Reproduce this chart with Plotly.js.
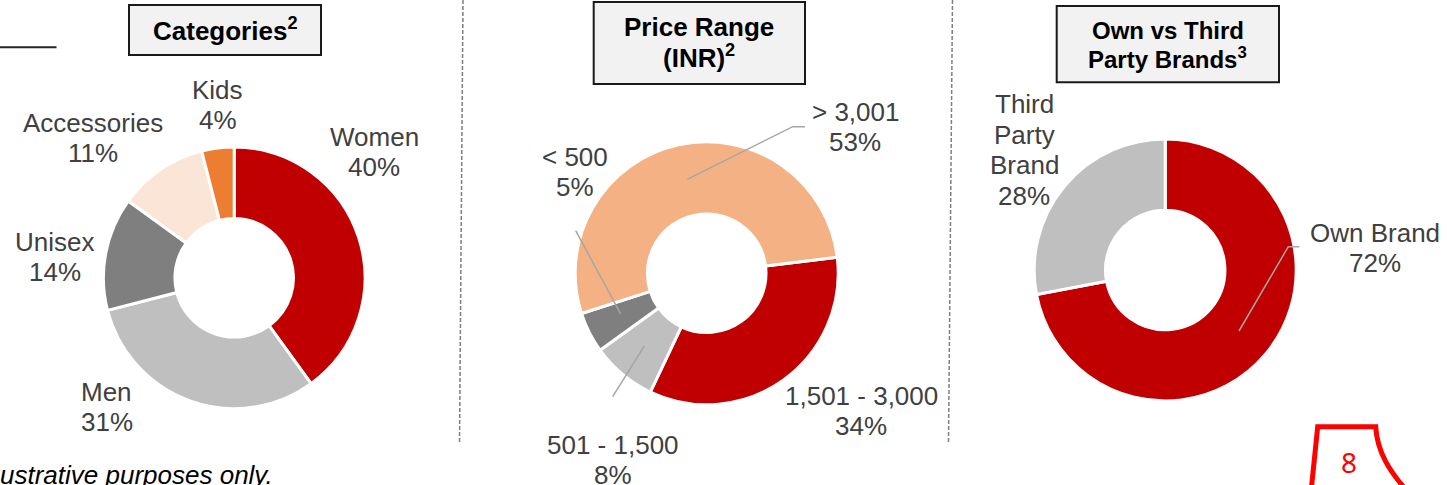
<!DOCTYPE html>
<html>
<head>
<meta charset="utf-8">
<script src="https://cdn.plot.ly/plotly-3.0.1.min.js"></script>
<style>
html,body{margin:0;padding:0;background:#ffffff;overflow:hidden;}
#chart{width:1447px;height:485px;}
</style>
</head>
<body>
<div id="chart"></div>
<script>
// ---------------- data ----------------
const categoryLabels = ['Women', 'Men', 'Unisex', 'Accessories', 'Kids'];
const categoryValues = [40, 31, 14, 11, 4];

const priceLabels = ['1,501 - 3,000', '501 - 1,500', '< 500', '> 3,001'];
const priceValues = [34, 8, 5, 53];

const brandLabels = ['Own Brand', 'Third Party Brand'];
const brandValues = [72, 28];

const titleLines = [
  ['Categories<sup>2</sup>'],
  ['Price Range', '(INR)<sup>2</sup>'],
  ['Own vs Third', 'Party Brands<sup>3</sup>']
];
const footnoteText = 'ustrative purposes only.';
const pageNumber = '8';

// ---------------- styling / layout ----------------
const W = 1447, H = 485;
const px = x => x / W;
const py = y => 1 - y / H;

const categoryColors = ['#C00000', '#BFBFBF', '#7F7F7F', '#FBE5D6', '#ED7D31'];
const priceColors = ['#C00000', '#BFBFBF', '#7F7F7F', '#F4B183'];
const brandColors = ['#C00000', '#BFBFBF'];

const FONT = '"Liberation Sans", Arial, sans-serif';
const LABEL_SIZE = 26, LABEL_COLOR = '#404040', LINE_GAP = 30.5;

function dom(cx, cy, r) {
  return { x: [px(cx - r), px(cx + r)], y: [py(cy + r), py(cy - r)] };
}

function donut(labels, values, colors, cx, cy, r, hole, rotation) {
  return {
    type: 'pie', labels: labels, values: values, sort: false,
    direction: 'clockwise', rotation: rotation, hole: hole,
    domain: dom(cx, cy, r),
    marker: { colors: colors, line: { color: '#ffffff', width: 3 } },
    textinfo: 'none', hoverinfo: 'label+percent', showlegend: false
  };
}

const traces = [
  donut(categoryLabels, categoryValues, categoryColors, 234.2, 277.8, 130.8, 0.453, 0),
  donut(priceLabels, priceValues, priceColors, 706.7, 273.3, 131.5, 0.451, 83),
  donut(brandLabels, brandValues, brandColors, 1165.2, 270, 131, 0.456, 0)
];

// label placements (center x, first baseline y) in pixels
const categoryLabelPos = [
  { cx: 374, y: 145.7 }, { cx: 106.7, y: 401 }, { cx: 54.7, y: 250.7 },
  { cx: 92.5, y: 132 }, { cx: 218, y: 99 }
];
const priceLabelPos = [
  { cx: 861.5, y: 405 }, { cx: 612.5, y: 454 }, { cx: 575, y: 165.7 }, { cx: 855, y: 120.7 }
];
const brandLabelPos = [
  { cx: 1374.5, y: 241.7 }, { cx: 1024, y: 113.3, wrap: true }
];

const annotations = [];
const shapes = [];

function lineAnn(text, cx, baseline, size, color, bold) {
  const hasSup = text.indexOf('<sup>') >= 0;
  const cy = baseline - (hasSup ? 0.42 : 0.3465) * size;
  annotations.push({
    xref: 'paper', yref: 'paper', x: px(cx), y: py(cy),
    xanchor: 'center', yanchor: 'middle', showarrow: false,
    borderpad: 0, borderwidth: 0,
    text: bold ? '<b>' + text + '</b>' : text,
    font: { family: FONT, size: size, color: color }
  });
}

function addLabels(labels, values, pos) {
  labels.forEach((lab, i) => {
    const p = pos[i];
    const lines = (p.wrap ? lab.split(' ') : [lab]).concat([values[i] + '%']);
    lines.forEach((t, k) => lineAnn(t, p.cx, p.y + k * LINE_GAP, LABEL_SIZE, LABEL_COLOR, false));
  });
}
addLabels(categoryLabels, categoryValues, categoryLabelPos);
addLabels(priceLabels, priceValues, priceLabelPos);
addLabels(brandLabels, brandValues, brandLabelPos);

// title boxes
const titleBoxes = [
  { x0: 128, y0: 4, x1: 322, y1: 56, size: 26, baselines: [40] },
  { x0: 592.7, y0: 1, x1: 806, y1: 85, size: 26, baselines: [36, 67.5] },
  { x0: 1055.7, y0: 5, x1: 1280, y1: 83.3, size: 24, baselines: [39, 68] }
];
titleBoxes.forEach((b, i) => {
  shapes.push({
    type: 'rect', xref: 'paper', yref: 'paper',
    x0: px(b.x0 + 1), x1: px(b.x1 - 1), y0: py(b.y1 - 1), y1: py(b.y0 + 1),
    fillcolor: '#F2F2F2', line: { color: '#1A1A1A', width: 2 }
  });
  const cx = (b.x0 + b.x1) / 2;
  titleLines[i].forEach((t, k) => lineAnn(t, cx, b.baselines[k], b.size, '#000000', true));
});

// leader lines
const leaderLines = [
  [[805, 126.7], [792.7, 126.7], [687.3, 179.3]],
  [[575.7, 230.7], [620.7, 314]],
  [[612.7, 396.7], [644.3, 346]],
  [[1299.3, 246.7], [1288.3, 246.7], [1239, 331]]
];
leaderLines.forEach(pts => {
  const d = pts.map((p, k) => (k ? 'L ' : 'M ') + px(p[0]) + ' ' + py(p[1])).join(' ');
  shapes.push({ type: 'path', xref: 'paper', yref: 'paper', path: d,
    line: { color: '#A6A6A6', width: 1.5 } });
});

// dashed separators
[[463, 459.5], [952.5, 948.5]].forEach(s => {
  shapes.push({ type: 'line', xref: 'paper', yref: 'paper',
    x0: px(s[0]), y0: py(0), x1: px(s[1]), y1: py(443),
    line: { color: '#7F7F7F', width: 1.5, dash: '4px,2px' } });
});

// top-left rule
shapes.push({ type: 'line', xref: 'paper', yref: 'paper',
  x0: px(0), y0: py(47.3), x1: px(56.5), y1: py(47.3),
  line: { color: '#262626', width: 2 } });

// page badge outline
const badge = 'M ' + px(1311) + ' ' + py(492) +
  ' L ' + px(1317.7) + ' ' + py(426.7) +
  ' L ' + px(1375.7) + ' ' + py(426.7) +
  ' C ' + px(1377) + ' ' + py(452) + ' ' + px(1390) + ' ' + py(472) + ' ' + px(1408) + ' ' + py(492);
shapes.push({ type: 'path', xref: 'paper', yref: 'paper', path: badge,
  line: { color: '#FF0000', width: 5 } });
annotations.push({ xref: 'paper', yref: 'paper', x: px(1349), y: py(462),
  xanchor: 'center', yanchor: 'middle', showarrow: false, borderpad: 0, borderwidth: 0,
  text: pageNumber, font: { family: '"Noto Sans", "Open Sans", sans-serif', size: 28, color: '#FF0000' } });

// footnote (cut by the bottom edge)
annotations.push({ xref: 'paper', yref: 'paper', x: px(0), y: py(484.5 - 0.3465 * 26),
  xanchor: 'left', yanchor: 'middle', showarrow: false, borderpad: 0, borderwidth: 0,
  text: '<i>' + footnoteText + '</i>', font: { family: FONT, size: 26, color: '#000000' } });

const layout = {
  width: W, height: H, autosize: false,
  margin: { l: 0, r: 0, t: 0, b: 0, pad: 0 },
  paper_bgcolor: '#ffffff', plot_bgcolor: '#ffffff',
  showlegend: false,
  shapes: shapes, annotations: annotations
};

Plotly.newPlot('chart', traces, layout, { displayModeBar: false, staticPlot: true });
</script>
</body>
</html>
